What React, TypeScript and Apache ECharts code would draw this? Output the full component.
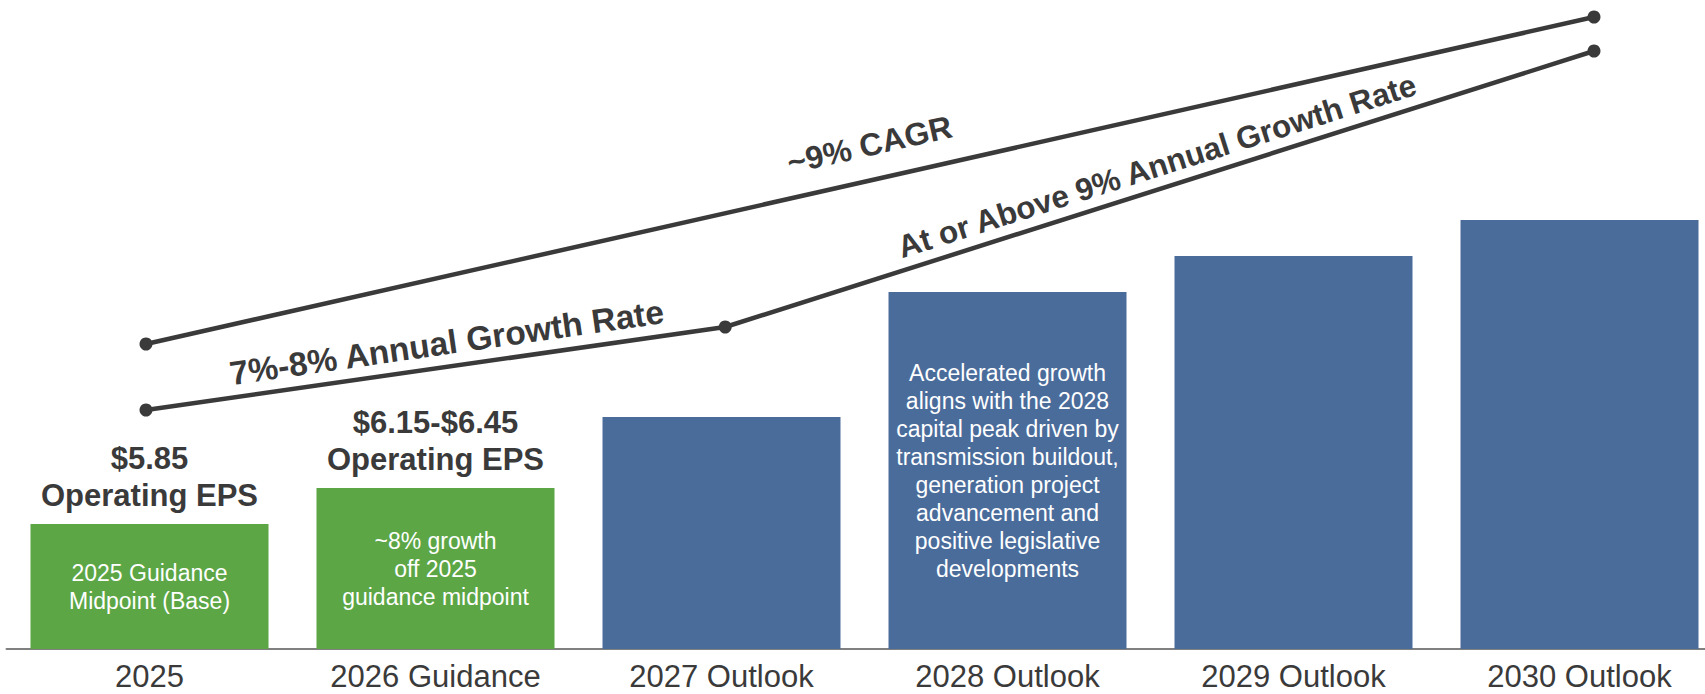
import React, { useEffect, useRef } from "react";
import * as echarts from "echarts";

// ---- data ----
const categories = ["2025", "2026 Guidance", "2027 Outlook", "2028 Outlook", "2029 Outlook", "2030 Outlook"];
// relative bar heights (illustrative scale, no visible value axis)
const barHeights = [1.25, 1.61, 2.32, 3.57, 3.93, 4.29];
const insideNotes = [
  "2025 Guidance\nMidpoint (Base)",
  "~8% growth\noff 2025\nguidance midpoint",
  "",
  "Accelerated growth\naligns with the 2028\ncapital peak driven by\ntransmission buildout,\ngeneration project\nadvancement and\npositive legislative\ndevelopments",
  "",
  "",
];
const topNotes = ["$5.85\nOperating EPS", "$6.15-$6.45\nOperating EPS", "", "", "", ""];
const cagrYears = [2025, 2030];
const cagrValues = [3.05, 6.32];
const pathYears = [2025, 2027, 2030];
const pathValues = [2.39, 3.22, 5.98];
const cagrLabel = "~9% CAGR";
const pathLabels = ["7%-8% Annual Growth Rate", "At or Above 9% Annual Growth Rate"];

// ---- styles ----
const GREEN = "#5CA646";
const BLUE = "#4A6C9B";
const DARK = "#3A3A3A";
const FONT = "'Liberation Sans', Arial, sans-serif";
const barColorOf = (i: number) => (i < 2 ? GREEN : BLUE);
const CHART_W = 1730;

export default function App() {
  const ref = useRef<HTMLDivElement>(null);

  useEffect(() => {
    if (!ref.current) return;
    const chart = echarts.init(ref.current, undefined, { renderer: "svg" });

    const option: any = {
      animation: false,
      backgroundColor: "#ffffff",
      grid: [
        { left: 6.5, width: 1716, top: 0, bottom: 45 },
        { left: 146, right: CHART_W - 1594, top: 0, bottom: 45 },
      ],
      xAxis: [
        {
          type: "category",
          gridIndex: 0,
          data: categories,
          axisTick: { show: false },
          axisLine: { lineStyle: { color: "#808080", width: 2 } },
          axisLabel: { fontSize: 31, lineHeight: 24, color: DARK, fontFamily: FONT, margin: 15, interval: 0 },
        },
        { type: "value", gridIndex: 1, min: 2025, max: 2030, show: false },
      ],
      yAxis: [
        { type: "value", gridIndex: 0, min: 0, max: 6.49, show: false },
        { type: "value", gridIndex: 1, min: 0, max: 6.49, show: false },
      ],
      series: [
        {
          type: "bar",
          xAxisIndex: 0,
          yAxisIndex: 0,
          barWidth: 238,
          barGap: "-100%",
          data: barHeights.map((v, i) => ({
            value: v,
            itemStyle: { color: barColorOf(i) },
            label: {
              show: insideNotes[i] !== "",
              position: "inside",
              formatter: insideNotes[i],
              color: "#ffffff",
              fontSize: 23,
              lineHeight: 28,
              fontFamily: FONT,
              align: "center",
            },
          })),
        },
        {
          type: "bar",
          xAxisIndex: 0,
          yAxisIndex: 0,
          barWidth: 238,
          barGap: "-100%",
          silent: true,
          itemStyle: { color: "rgba(0,0,0,0)" },
          data: barHeights.map((v, i) => ({
            value: v,
            label: {
              show: topNotes[i] !== "",
              position: "top",
              distance: 10,
              formatter: topNotes[i],
              color: DARK,
              fontSize: 31,
              fontWeight: "bold",
              lineHeight: 37,
              fontFamily: FONT,
              align: "center",
            },
          })),
        },
        {
          type: "line",
          xAxisIndex: 1,
          yAxisIndex: 1,
          data: cagrYears.map((y, i) => [y, cagrValues[i]]),
          symbol: "circle",
          symbolSize: 13,
          lineStyle: { color: DARK, width: 4.5 },
          itemStyle: { color: DARK },
          z: 5,
        },
        {
          type: "line",
          xAxisIndex: 1,
          yAxisIndex: 1,
          data: pathYears.map((y, i) => [y, pathValues[i]]),
          symbol: "circle",
          symbolSize: 13,
          lineStyle: { color: DARK, width: 4.5 },
          itemStyle: { color: DARK },
          z: 5,
        },
      ],
    };
    chart.setOption(option);

    const px = (x: number, y: number) =>
      chart.convertToPixel({ xAxisIndex: 1, yAxisIndex: 1 }, [x, y]) as number[];

    const segLabel = (
      p1: number[],
      p2: number[],
      text: string,
      t: number,
      offset: number,
      size: number
    ) => {
      const dx = p2[0] - p1[0];
      const dy = p2[1] - p1[1];
      const len = Math.sqrt(dx * dx + dy * dy);
      const nx = dy / len;
      const ny = -dx / len;
      const mx = p1[0] + dx * t + nx * offset;
      const my = p1[1] + dy * t + ny * offset;
      return {
        type: "text",
        x: mx,
        y: my,
        rotation: Math.atan2(-dy, dx),
        silent: true,
        z: 10,
        style: {
          text,
          fill: DARK,
          font: `bold ${size}px ${FONT}`,
          align: "center",
          verticalAlign: "middle",
        },
      };
    };

    const c0 = px(cagrYears[0], cagrValues[0]);
    const c1 = px(cagrYears[1], cagrValues[1]);
    const p0 = px(pathYears[0], pathValues[0]);
    const p1 = px(pathYears[1], pathValues[1]);
    const p2 = px(pathYears[2], pathValues[2]);

    chart.setOption({
      graphic: [
        segLabel(c0, c1, cagrLabel, 0.505, 35, 32),
        segLabel(p0, p1, pathLabels[0], 0.525, 24, 33.5),
        segLabel(p1, p2, pathLabels[1], 0.505, 23, 31.5),
      ],
    });

    return () => chart.dispose();
  }, []);

  return (
    <div
      style={{
        position: "absolute",
        left: 0,
        top: 0,
        width: 1705,
        height: 694,
        overflow: "hidden",
        background: "#fff",
      }}
    >
      <div ref={ref} style={{ width: CHART_W, height: 694 }} />
    </div>
  );
}
